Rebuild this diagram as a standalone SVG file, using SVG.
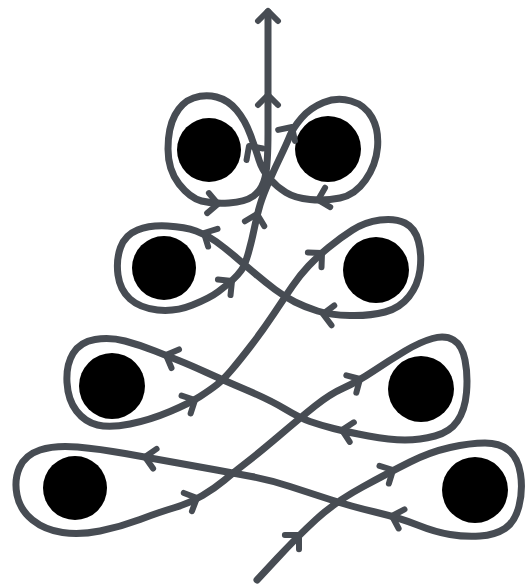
<svg xmlns="http://www.w3.org/2000/svg" xmlns:xlink="http://www.w3.org/1999/xlink" width="525" height="586" viewBox="0 0 525 586">
<style>
.dot{fill:#000}
.line{fill:none;stroke:#474c53;stroke-width:7;stroke-linecap:round;stroke-linejoin:round}
.chev{fill:none;stroke:#474c53;stroke-width:6;stroke-linecap:round;stroke-linejoin:round}
</style>
<defs>
<path id="chev" class="chev" d="M-10,-10 L0,0 L-10,10"/>
</defs>
<rect width="525" height="586" fill="#fff"/>
<g id="nodes">
<g id="dot-top-left"><circle class="dot" cx="209" cy="150" r="32"/></g>
<g id="dot-top-right"><circle class="dot" cx="328" cy="149" r="33"/></g>
<g id="dot-row2-left"><circle class="dot" cx="164" cy="268" r="32"/></g>
<g id="dot-row2-right"><circle class="dot" cx="376" cy="270" r="33"/></g>
<g id="dot-row3-left"><circle class="dot" cx="112" cy="386" r="33"/></g>
<g id="dot-row3-right"><circle class="dot" cx="421" cy="389" r="33"/></g>
<g id="dot-row4-left"><circle class="dot" cx="75" cy="488" r="32"/></g>
<g id="dot-row4-right"><circle class="dot" cx="475" cy="490" r="33"/></g>
</g>
<g id="connectors">
<path class="line" d="M257,580 L277,558.5 Q297,537 316,519.5 Q335,502 362.5,487 Q390,472 410,462 Q430,452 450,447.5 Q470,443 485,443 Q500,443 509,450.5 Q518,458 520.5,474 Q523,490 519,506 Q515,522 505,528.5 Q495,535 480,536 Q465,537 450,534.5 Q435,532 417.5,525 Q400,518 375,512 Q350,506 330,499.5 Q310,493 290,486.5 Q270,480 251.5,476.5 Q233,473 216.5,470 Q200,467 175,462.5 Q150,458 125,453.5 Q100,449 77.5,447 Q55,445 40,450 Q25,455 19.5,467.5 Q14,480 17,495 Q20,510 32.5,520 Q45,530 62.5,532.5 Q80,535 100,531 Q120,527 140,519.5 Q160,512 175,507.5 Q190,503 202.5,495.5 Q215,488 224,480.5 Q233,473 246.5,462.5 Q260,452 280,435 Q300,418 315,406 Q330,394 343.5,388 Q357,382 373.5,371 Q390,360 405,351 Q420,342 432.5,338.5 Q445,335 453.5,340 Q462,345 465,360 Q468,375 466.5,392.5 Q465,410 457.5,421 Q450,432 435,436 Q420,440 405,440 Q390,440 368.5,436 Q347,432 333.5,428.5 Q320,425 310,421.5 Q300,418 285,409 Q270,400 246.5,390 Q223,380 206.5,372.5 Q190,365 180,361 Q170,357 155,351 Q140,345 125,341 Q110,337 95,339.5 Q80,342 73,353.5 Q66,365 67,382.5 Q68,400 76.5,411 Q85,422 97.5,425 Q110,428 130,424 Q150,420 170,411.5 Q190,403 200,396.5 Q210,390 216.5,385 Q223,380 231.5,370 Q240,360 251.5,345 Q263,330 274,313.5 Q285,297 292.5,286 Q300,275 308.5,266 Q317,257 328.5,247.5 Q340,238 352.5,230 Q365,222 380,220 Q395,218 405,223 Q415,228 418.5,241.5 Q422,255 420,270 Q418,285 409,296.5 Q400,308 385,312 Q370,316 350,315.5 Q330,315 317.5,311 Q305,307 295,302 Q285,297 275,289.5 Q265,282 255,273.5 Q245,265 235,256.5 Q225,248 216,241.5 Q207,235 196,231 Q185,227 167.5,226 Q150,225 137.5,230 Q125,235 120.5,247.5 Q116,260 118,275 Q120,290 130,299 Q140,308 157.5,310 Q175,312 192.5,305 Q210,298 218.5,291.5 Q227,285 232.5,280 Q238,275 241.5,270 Q245,265 248.5,252.5 Q252,240 254.5,227.5 Q257,215 260,205 Q263,195 269,181.5 Q275,168 281,155.5 Q287,143 290,135.5 Q293,128 301.5,118 Q310,108 323.5,102.5 Q337,97 351,101 Q365,105 372,117.5 Q379,130 377.5,147.5 Q376,165 365.5,180 Q355,195 340,198 Q325,201 310,199.5 Q295,198 286,192.5 Q277,187 269.5,178.5 Q262,170 259,160 Q256,150 250.5,135 Q245,120 236.5,110 Q228,100 216.5,97 Q205,94 193.5,98 Q182,102 175,115 Q168,128 168,149 Q168,170 179,184 Q190,198 201.5,201 Q213,204 229,203 Q245,202 253.5,196 Q262,190 265,177.5 Q268,165 268,132.5 L268,12"/>
<use xlink:href="#chev" transform="translate(299,535) rotate(-45)"/>
<use xlink:href="#chev" transform="translate(393,470) rotate(-28)"/>
<use xlink:href="#chev" transform="translate(392,516) rotate(-163)"/>
<use xlink:href="#chev" transform="translate(145,457) rotate(-170)"/>
<use xlink:href="#chev" transform="translate(197,498) rotate(-24)"/>
<use xlink:href="#chev" transform="translate(360,379) rotate(-30)"/>
<use xlink:href="#chev" transform="translate(342,430) rotate(-168)"/>
<use xlink:href="#chev" transform="translate(166,355) rotate(-158)"/>
<use xlink:href="#chev" transform="translate(195,400) rotate(-27)"/>
<use xlink:href="#chev" transform="translate(322,253) rotate(-43)"/>
<use xlink:href="#chev" transform="translate(323,314) rotate(-172)"/>
<use xlink:href="#chev" transform="translate(204,233) rotate(-152)"/>
<use xlink:href="#chev" transform="translate(232,281) rotate(-39)"/>
<use xlink:href="#chev" transform="translate(257,214) rotate(-76)"/>
<use xlink:href="#chev" transform="translate(292,127) rotate(-57)"/>
<use xlink:href="#chev" transform="translate(318,200) rotate(165)"/>
<use xlink:href="#chev" transform="translate(249,146) rotate(-125)"/>
<use xlink:href="#chev" transform="translate(218,204) rotate(5)"/>
<use xlink:href="#chev" transform="translate(268,95) rotate(-90)"/>
<use xlink:href="#chev" transform="translate(268,11) rotate(-90)"/>
</g>
</svg>
